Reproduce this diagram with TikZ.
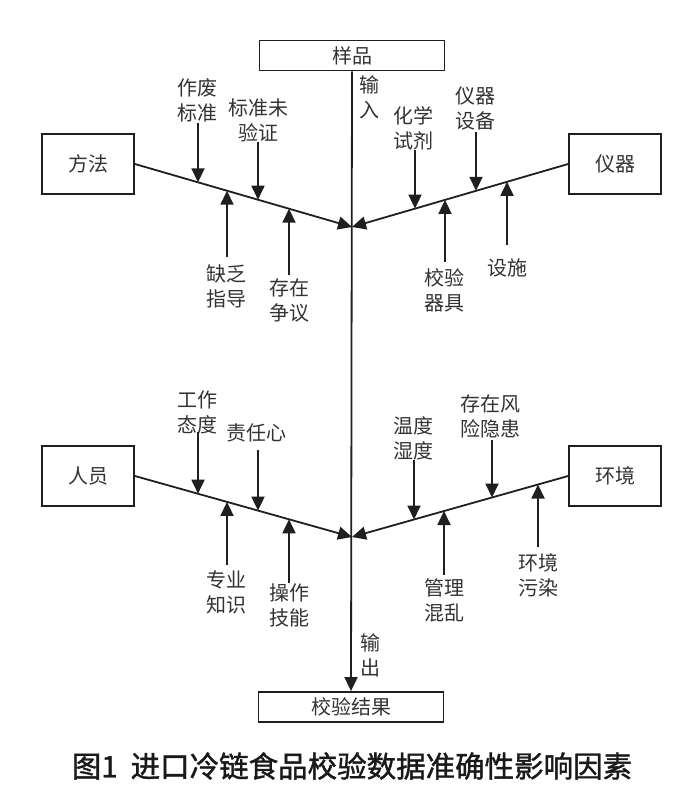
\documentclass[tikz,border=0pt]{standalone}
\usepackage{fontspec}
\newfontfamily\cjk{Noto Sans CJK SC}
\newfontfamily\cjkm[FakeBold=1.3]{Noto Sans CJK SC}
\usetikzlibrary{arrows.meta}
\begin{document}
\begin{tikzpicture}[x=1pt,y=-1pt,
  ln/.style={line width=1.8pt, draw=black!88},
  arr/.style={ln, -{Triangle[length=14pt,width=13pt]}},
  box/.style={draw=black!88, line width=1.8pt, minimum width=92pt, minimum height=60pt, inner sep=0pt, font=\cjk\fontsize{20}{24}\selectfont, text=black!80},
  wbox/.style={box, minimum width=185pt, minimum height=30pt},
  lab/.style={align=center, inner sep=0pt, font=\cjk\fontsize{20}{25}\selectfont, text=black!80}]
\useasboundingbox (0,0) rectangle (698,800);
\fill[white] (0,0) rectangle (698,800);
% boxes
\node[wbox] (yp) at (352,55.5) {样品};
\node[wbox] (jg) at (351,707) {校验结果};
\node[box] (ff) at (88,164) {方法};
\node[box] (yq) at (615,164) {仪器};
\node[box] (ry) at (88,476) {人员};
\node[box] (hj) at (615,476) {环境};
% junctions
\coordinate (J1) at (352,227);
\coordinate (J2) at (352,537);
% spine
\draw[arr] (yp.south) -- (jg.north);
\node[lab] (in) at (369,97) {输\\入};
\node[lab] (out) at (370,655) {输\\出};
% branches
\draw[arr] (ff.east) -- (J1);
\draw[arr] (yq.west) -- (J1);
\draw[arr] (ry.east) -- (J2);
\draw[arr] (hj.west) -- (J2);
% ---- method
\node[lab] (a1) at (197,100) {作废\\标准};
\node[lab] (a2) at (258,120) {标准未\\验证};
\node[lab] (a3) at (226,286) {缺乏\\指导};
\node[lab] (a4) at (289,300) {存在\\争议};
\coordinate (a1s) at (198,123); \coordinate (a1t) at (198,182.3);
\coordinate (a2s) at (258,142); \coordinate (a2t) at (258,199.7);
\coordinate (a3s) at (227,257); \coordinate (a3t) at (227,190.7);
\coordinate (a4s) at (289,275); \coordinate (a4t) at (289,208.7);
\draw[arr] (a1s) -- (a1t);
\draw[arr] (a2s) -- (a2t);
\draw[arr] (a3s) -- (a3t);
\draw[arr] (a4s) -- (a4t);
% ---- instrument
\node[lab] (b1) at (413,128) {化学\\试剂};
\node[lab] (b2) at (475,108) {仪器\\设备};
\node[lab] (b3) at (444,290) {校验\\器具};
\node[lab] (b4) at (507,268) {设施};
\coordinate (b1s) at (415,150); \coordinate (b1t) at (415,208.6);
\coordinate (b2s) at (476,132); \coordinate (b2t) at (476,190.8);
\coordinate (b3s) at (445,262); \coordinate (b3t) at (445,199.9);
\coordinate (b4s) at (507,245); \coordinate (b4t) at (507,181.8);
\draw[arr] (b1s) -- (b1t);
\draw[arr] (b2s) -- (b2t);
\draw[arr] (b3s) -- (b3t);
\draw[arr] (b4s) -- (b4t);
% ---- people
\node[lab] (c1) at (197,412) {工作\\态度};
\node[lab] (c2) at (256,433) {责任心};
\node[lab] (c3) at (226,592) {专业\\知识};
\node[lab] (c4) at (289,605) {操作\\技能};
\coordinate (c1s) at (198,432); \coordinate (c1t) at (198,493.7);
\coordinate (c2s) at (258,450); \coordinate (c2t) at (258,510.6);
\coordinate (c3s) at (227,565); \coordinate (c3t) at (227,501.9);
\coordinate (c4s) at (289,583); \coordinate (c4t) at (289,519.3);
\draw[arr] (c1s) -- (c1t);
\draw[arr] (c2s) -- (c2t);
\draw[arr] (c3s) -- (c3t);
\draw[arr] (c4s) -- (c4t);
% ---- environment
\node[lab] (d1) at (413,438) {温度\\湿度};
\node[lab] (d2) at (490,416) {存在风\\险隐患};
\node[lab] (d3) at (444,600) {管理\\混乱};
\node[lab] (d4) at (538,575) {环境\\污染};
\coordinate (d1s) at (414,460); \coordinate (d1t) at (414,519.5);
\coordinate (d2s) at (492,440); \coordinate (d2t) at (492,497.5);
\coordinate (d3s) at (444,575); \coordinate (d3t) at (444,511);
\coordinate (d4s) at (538,547); \coordinate (d4t) at (538,484.5);
\draw[arr] (d1s) -- (d1t);
\draw[arr] (d2s) -- (d2t);
\draw[arr] (d3s) -- (d3t);
\draw[arr] (d4s) -- (d4t);
% caption
\node[font=\cjkm\fontsize{29.5}{32}\selectfont, text=black!90] (cap) at (352,766) {图1\hspace{13pt}进口冷链食品校验数据准确性影响因素};
\end{tikzpicture}
\end{document}
